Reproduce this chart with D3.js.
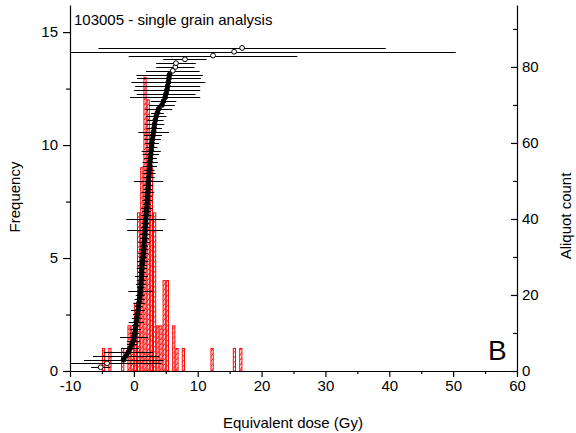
<!DOCTYPE html>
<html><head><meta charset="utf-8">
<script src="https://cdn.jsdelivr.net/npm/d3@7"></script>
<style>
html,body{margin:0;padding:0;background:#fff;}
svg{display:block;font-family:"Liberation Sans",Arial,sans-serif;}
</style></head>
<body><svg id="c" width="576" height="433"></svg>
<script>
// ---- data ----
const binStarts = [-5,-4,-2,-1,-0.5,0,0.5,1,1.5,2,2.5,3,3.5,4,4.5,5,6,6.5,7.5,12,15.5,16.5];
const binCounts = [1,1,1,2,2,3,7,9,13,12,9,7,2,2,4,4,2,1,1,1,1,1];
const binWidth = 0.5;

const dose = [-5.2,-4.2,-1.6,-1.2,-0.85,-0.6,-0.3,-0.05,0.05,0.15,
  0.25,0.32,0.4,0.47,0.55,0.65,0.75,0.82,0.9,1.0,
  1.04,1.08,1.12,1.16,1.2,1.23,1.26,1.32,1.38,1.44,
  1.5,1.54,1.58,1.63,1.67,1.72,1.76,1.8,1.85,1.9,
  1.94,1.98,2.03,2.07,2.11,2.15,2.19,2.22,2.26,2.3,
  2.35,2.4,2.45,2.5,2.55,2.6,2.66,2.72,2.78,2.84,
  2.92,3.0,3.1,3.18,3.26,3.35,3.5,3.7,3.9,4.4,
  4.65,4.9,5.05,5.2,5.3,5.4,5.5,5.6,6.1,6.5,
  6.6,8.0,12.4,15.7,16.95];
const doseErr = [1.5,8.5,6.2,5.2,3.9,1.4,0.8,1.0,2.2,0.7,
  0.9,0.6,1.2,0.8,0.7,1.1,0.6,0.9,0.8,0.7,
  1.9,0.6,0.8,0.7,1.0,0.6,0.8,0.7,0.9,0.6,
  0.8,0.7,0.6,0.9,0.7,0.8,2.8,0.7,0.6,3.1,
  0.8,0.7,0.9,0.6,0.8,0.7,1.0,0.7,0.8,2.3,
  0.9,1.0,0.8,1.1,1.2,1.0,1.3,1.5,0.9,1.1,
  1.3,1.4,2.4,1.2,1.5,1.3,1.6,1.0,2.1,2.0,
  2.0,5.5,4.6,5.2,5.1,5.8,5.0,5.2,4.2,3.0,
  3.1,3.4,13.2,34.7,22.5];
const openRanks = [1,2,79,80,81,82,83,84,85];

const xTicks = [-10,0,10,20,30,40,50,60];
const xMinor = [-5,5,15,25,35,45,55];
const fTicks = [0,5,10,15];
const fMinor = [2.5,7.5,12.5];
const aTicks = [0,20,40,60,80];
const aMinor = [10,30,50,70,90];

const title = "103005 - single grain analysis";
const xLabel = "Equivalent dose (Gy)";
const yLabel = "Frequency";
const y2Label = "Aliquot count";
const panel = "B";

// ---- chart ----
const svg = d3.select("#c");
const L=70, R=517, B=371, T=5;
const x = d3.scaleLinear([-10,60],[L,R]);
const yF = d3.scaleLinear([0,16.2],[B,T]);
const yA = d3.scaleLinear([0,96.3],[B,T]);

const defs = svg.append("defs");
const pat = defs.append("pattern").attr("id","hatch").attr("patternUnits","userSpaceOnUse")
  .attr("width",4).attr("height",5);
pat.append("rect").attr("width",4).attr("height",5).attr("fill","#fff");
pat.append("path").attr("d","M0,5 L4,0").attr("stroke","#ff0000").attr("stroke-width",0.9);
defs.append("clipPath").attr("id","clip").append("rect")
  .attr("x",L).attr("y",0).attr("width",R-L).attr("height",B);

// histogram
const bins = binStarts.map((s,i)=>({s, c:binCounts[i]}));
svg.append("g").selectAll("rect").data(bins).join("rect")
  .attr("x",d=>x(d.s)+0.5)
  .attr("y",d=>yF(d.c))
  .attr("width",d=>x(d.s+binWidth)-x(d.s)-1)
  .attr("height",d=>yF(0)-yF(d.c))
  .attr("fill","url(#hatch)")
  .attr("stroke","#ff0000").attr("stroke-width",1);

// ranked plot
const pts = dose.map((v,i)=>({v, e:doseErr[i], r:i+1, open:openRanks.includes(i+1)}));
const gp = svg.append("g").attr("clip-path","url(#clip)");
gp.selectAll("line").data(pts).join("line")
  .attr("x1",d=>x(d.v-d.e)).attr("x2",d=>x(d.v+d.e))
  .attr("y1",d=>Math.round(yA(d.r))+0.5).attr("y2",d=>Math.round(yA(d.r))+0.5)
  .attr("stroke","#000").attr("stroke-width",1);
svg.append("g").selectAll("circle").data(pts).join("circle")
  .attr("cx",d=>x(d.v)).attr("cy",d=>yA(d.r))
  .attr("r",2.4)
  .attr("fill",d=>d.open?"#fff":"#000")
  .attr("stroke","#000").attr("stroke-width",1);

// axes
const fmt = d => String(d);
function style(g,fs){
  g.selectAll("text").attr("font-size",fs).attr("fill","#000").attr("font-family",'"Liberation Sans",Arial,sans-serif');
  g.select(".domain").attr("stroke","#000").attr("stroke-width",1.2);
  g.selectAll(".tick line").attr("stroke","#000").attr("stroke-width",1.2);
}
const gx = svg.append("g").attr("transform",`translate(0,${B})`)
  .call(d3.axisBottom(x).tickValues(xTicks).tickSize(6).tickSizeOuter(0).tickPadding(3).tickFormat(fmt));
style(gx,15);
const gxm = svg.append("g").attr("transform",`translate(0,${B})`)
  .call(d3.axisBottom(x).tickValues(xMinor).tickSize(3).tickSizeOuter(0).tickFormat(""));
style(gxm,15); gxm.select(".domain").remove();

const gl = svg.append("g").attr("transform",`translate(${L},0)`)
  .call(d3.axisLeft(yF).tickValues(fTicks).tickSize(7).tickSizeOuter(0).tickPadding(5).tickFormat(fmt));
style(gl,15);
const glm = svg.append("g").attr("transform",`translate(${L},0)`)
  .call(d3.axisLeft(yF).tickValues(fMinor).tickSize(4).tickSizeOuter(0).tickFormat(""));
style(glm,15); glm.select(".domain").remove();

const gr = svg.append("g").attr("transform",`translate(${R},0)`)
  .call(d3.axisRight(yA).tickValues(aTicks).tickSize(-6).tickSizeOuter(0).tickPadding(5).tickFormat(fmt));
style(gr,15);
const grm = svg.append("g").attr("transform",`translate(${R},0)`)
  .call(d3.axisRight(yA).tickValues(aMinor).tickSize(-4).tickSizeOuter(0).tickFormat(""));
style(grm,15); grm.select(".domain").remove();

// texts
svg.append("text").attr("x",74).attr("y",25).attr("font-size",15).text(title);
svg.append("text").attr("x",293).attr("y",428).attr("text-anchor","middle").attr("font-size",15).text(xLabel);
svg.append("text").attr("transform","translate(20,197) rotate(-90)").attr("text-anchor","middle").attr("font-size",15).text(yLabel);
svg.append("text").attr("transform","translate(571,216) rotate(-90)").attr("text-anchor","middle").attr("font-size",15).text(y2Label);
svg.append("text").attr("x",488).attr("y",360).attr("font-size",28).text(panel);
</script></body></html>
